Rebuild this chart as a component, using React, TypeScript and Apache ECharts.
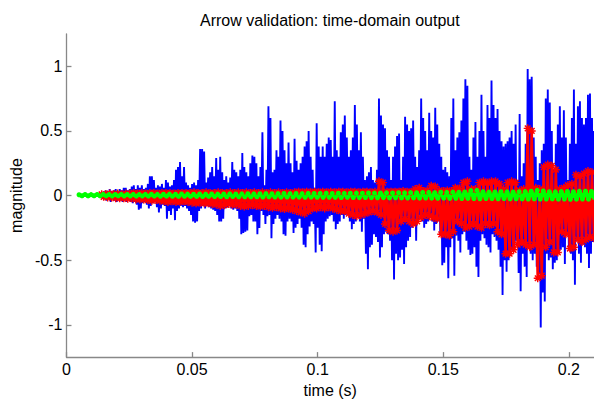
import React, { useEffect, useRef } from "react";
import * as echarts from "echarts";

// ---- data ----
const TITLE = "Arrow validation: time-domain output";
const X_NAME = "time (s)";
const Y_NAME = "magnitude";
const X_TICKS = [0, 0.05, 0.1, 0.15, 0.2];
const Y_TICKS = [-1, -0.5, 0, 0.5, 1];

// blue signal: positive and negative peaks on a regular time grid
const BLUE_T0 = 0.014;
const BLUE_DT = 0.0008;
const BLUE_UPPER = [
  0.02, 0.03, 0.04, 0.03, 0.05, 0.03, 0.04, 0.05, 0.03, 0.05, 0.04, 0.06,
  0.06, 0.04, 0.05, 0.07, 0.08, 0.05, 0.08, 0.06, 0.08, 0.05, 0.06,
  0.09, 0.15, 0.15, 0.12, 0.06, 0.08, 0.07, 0.09, 0.06, 0.12, 0.1, 0.07, 0.08,
  0.12, 0.2, 0.22, 0.26, 0.15, 0.22, 0.1, 0.08, 0.06, 0.09, 0.1, 0.08, 0.12,
  0.36, 0.36, 0.34, 0.1, 0.14, 0.18, 0.22, 0.15, 0.29, 0.2, 0.3, 0.18,
  0.12, 0.15, 0.1, 0.14, 0.26, 0.2, 0.18, 0.15, 0.2, 0.33, 0.22, 0.18,
  0.15, 0.25, 0.31, 0.3, 0.25, 0.15, 0.22, 0.49, 0.08, 0.2, 0.69, 0.6,
  0.18, 0.2, 0.35, 0.3, 0.58, 0.5, 0.35, 0.25, 0.41, 0.25, 0.18, 0.44,
  0.27, 0.2, 0.25, 0.3, 0.38, 0.42, 0.5, 0.3, 0.2, 0.06, 0.56, 0.38,
  0.3, 0.38, 0.3, 0.4, 0.45, 0.43, 0.3, 0.73, 0.35, 0.3, 0.49, 0.55,
  0.62, 0.45, 0.3, 0.35, 0.45, 0.7, 0.55, 0.35, 0.49, 0.3, 0.12, 0.15,
  0.18, 0.22, 0.12, 0.1, 0.2, 0.75, 0.62, 0.55, 0.52, 0.35, 0.3, 0.12,
  0.3, 0.38, 0.46, 0.48, 0.12, 0.3, 0.61, 0.55, 0.5, 0.52, 0.58, 0.3,
  0.22, 0.35, 0.75, 0.6, 0.5, 0.35, 0.64, 0.5, 0.45, 0.68, 0.55, 0.4,
  0.3, 0.2, 0.22, 0.18, 0.15, 0.6, 0.75, 0.35, 0.45, 0.49, 0.58, 0.75,
  0.9, 0.85, 0.3, 0.2, 0.45, 0.57, 0.3, 0.5, 0.78, 0.5, 0.3, 0.7,
  0.6, 0.89, 0.7, 0.6, 0.67, 0.5, 0.42, 0.38, 0.4, 0.42, 0.45, 0.5,
  0.4, 0.55, 0.12, 0.63, 0.15, 0.25, 0.4, 0.98, 0.9, 0.92, 0.45, 0.3,
  0.12, 0.25, 0.35, 0.4, 0.75, 0.82, 0.72, 0.5, 0.2, 0.4, 0.55, 0.69,
  0.45, 0.66, 0.45, 0.12, 0.4, 0.6, 0.82, 0.4, 0.69, 0.73, 0.6, 0.55,
  0.6, 0.78, 0.79, 0.6, 0.5,
];
const BLUE_LOWER = [
  -0.02, -0.03, -0.04, -0.03, -0.05, -0.03, -0.04, -0.05, -0.03, -0.04, -0.05, -0.04, -0.05, -0.03, -0.05,
  -0.06, -0.05, -0.07, -0.11, -0.1, -0.06, -0.05, -0.07, -0.1, -0.08, -0.06, -0.05,
  -0.09, -0.13, -0.1, -0.07, -0.08, -0.18, -0.12, -0.15, -0.1, -0.19, -0.12, -0.1,
  -0.08, -0.09, -0.08, -0.1, -0.12, -0.15, -0.2, -0.21, -0.2, -0.12, -0.1, -0.08,
  -0.1, -0.08, -0.09, -0.1, -0.11, -0.12, -0.15, -0.2, -0.2, -0.18, -0.1, -0.09,
  -0.08, -0.1, -0.11, -0.1, -0.12, -0.18, -0.3, -0.29, -0.28, -0.27, -0.16, -0.15,
  -0.2, -0.2, -0.3, -0.25, -0.12, -0.15, -0.22, -0.16, -0.15, -0.33, -0.22, -0.18,
  -0.15, -0.18, -0.2, -0.3, -0.31, -0.2, -0.18, -0.2, -0.29, -0.25, -0.22, -0.18,
  -0.25, -0.38, -0.4, -0.3, -0.24, -0.2, -0.22, -0.44, -0.25, -0.38, -0.43, -0.3,
  -0.2, -0.18, -0.16, -0.15, -0.2, -0.26, -0.22, -0.2, -0.15, -0.18, -0.15, -0.12,
  -0.2, -0.26, -0.22, -0.2, -0.15, -0.2, -0.28, -0.18, -0.45, -0.57, -0.4, -0.38,
  -0.3, -0.32, -0.36, -0.48, -0.4, -0.3, -0.28, -0.3, -0.35, -0.5, -0.65, -0.45,
  -0.5, -0.48, -0.42, -0.53, -0.4, -0.35, -0.32, -0.25, -0.2, -0.35, -0.2, -0.15,
  -0.2, -0.25, -0.22, -0.2, -0.15, -0.2, -0.27, -0.22, -0.2, -0.3, -0.54, -0.52,
  -0.4, -0.64, -0.4, -0.33, -0.62, -0.31, -0.35, -0.44, -0.3, -0.28, -0.35, -0.42,
  -0.46, -0.45, -0.4, -0.55, -0.63, -0.35, -0.3, -0.33, -0.38, -0.4, -0.44, -0.3,
  -0.32, -0.35, -0.42, -0.55, -0.77, -0.5, -0.59, -0.5, -0.45, -0.42, -0.38, -0.35,
  -0.6, -0.74, -0.45, -0.55, -0.63, -0.4, -0.45, -0.5, -0.45, -0.55, -0.6, -1.02,
  -0.75, -0.82, -0.45, -0.5, -0.48, -0.57, -0.52, -0.5, -0.45, -0.42, -0.4, -0.53,
  -0.3, -0.4, -0.45, -0.5, -0.69, -0.35, -0.45, -0.52, -0.38, -0.4, -0.45, -0.56,
  -0.45, -0.36, -0.4,
];

// red signal (star markers)
const RED_T0 = 0.014;
const RED_DT = 0.0016;
const RED_UPPER = [
  0.01, 0.01, 0.015, 0.01, 0.015, 0.01, 0.015, 0.015, 0.02, 0.015, 0.02, 0.015,
  0.02, 0.02, 0.015, 0.02, 0.02, 0.02, 0.015, 0.02, 0.02, 0.02, 0.02, 0.025,
  0.02, 0.02, 0.025, 0.02, 0.02, 0.025, 0.02, 0.02, 0.025, 0.02, 0.025, 0.02,
  0.025, 0.02, 0.025, 0.02, 0.025, 0.02, 0.025, 0.02, 0.025, 0.02, 0.025, 0.02,
  0.025, 0.03, 0.025, 0.03, 0.025, 0.03, 0.025, 0.03, 0.025, 0.03, 0.025, 0.03,
  0.03, 0.025, 0.03, 0.03, 0.025, 0.03, 0.03, 0.025, 0.03, 0.11, 0.1, 0.03,
  0.03, 0.03, 0.03, 0.035, 0.03, 0.03, 0.05, 0.06, 0.035, 0.04, 0.075, 0.07,
  0.04, 0.035, 0.04, 0.035, 0.06, 0.055, 0.1, 0.11, 0.05, 0.05, 0.1, 0.11,
  0.1, 0.11, 0.11, 0.09, 0.05, 0.1, 0.11, 0.1, 0.04, 0.05, 0.52, 0.5,
  0.06, 0.05, 0.22, 0.24, 0.23, 0.2, 0.05, 0.06, 0.08, 0.09, 0.16, 0.15,
  0.17, 0.19, 0.18,
];
const RED_LOWER = [
  -0.01, -0.015, -0.015, -0.02, -0.02, -0.02, -0.025, -0.02, -0.03, -0.03, -0.03, -0.035,
  -0.04, -0.035, -0.04, -0.045, -0.05, -0.045, -0.05, -0.05, -0.045, -0.05, -0.055, -0.06,
  -0.055, -0.06, -0.06, -0.065, -0.07, -0.08, -0.075, -0.065, -0.07, -0.07, -0.08, -0.085,
  -0.08, -0.075, -0.08, -0.085, -0.08, -0.09, -0.095, -0.09, -0.1, -0.105, -0.1, -0.11,
  -0.12, -0.13, -0.14, -0.12, -0.1, -0.1, -0.09, -0.1, -0.09, -0.1, -0.11, -0.12,
  -0.12, -0.14, -0.15, -0.16, -0.15, -0.14, -0.13, -0.12, -0.13, -0.15, -0.22, -0.27,
  -0.28, -0.27, -0.2, -0.18, -0.2, -0.22, -0.2, -0.17, -0.15, -0.16, -0.17, -0.18,
  -0.3, -0.3, -0.31, -0.28, -0.2, -0.22, -0.25, -0.24, -0.22, -0.24, -0.25, -0.22,
  -0.23, -0.22, -0.28, -0.3, -0.45, -0.45, -0.42, -0.38, -0.36, -0.38, -0.4, -0.38,
  -0.64, -0.62, -0.4, -0.36, -0.44, -0.44, -0.28, -0.3, -0.41, -0.4, -0.34, -0.36,
  -0.34, -0.32, -0.33,
];

// green signal (circle markers)
const GREEN_T0 = 0.005;
const GREEN_DT = 0.0024;
const GREEN_UPPER = [
  0.006, 0.008, 0.007, 0.008, 0.009, 0.008, 0.008, 0.009, 0.008, 0.009, 0.008, 0.009,
  0.01, 0.009, 0.01, 0.011, 0.01, 0.012, 0.011, 0.01, 0.012, 0.011, 0.012, 0.011,
  0.012, 0.013, 0.012, 0.013, 0.014, 0.013, 0.014, 0.015, 0.014, 0.015, 0.016, 0.015,
  0.016, 0.015, 0.017, 0.016, 0.017, 0.018, 0.016, 0.018, 0.017, 0.018, 0.019, 0.018,
  0.02, 0.019, 0.02, 0.021, 0.02, 0.022, 0.021, 0.023, 0.022, 0.024, 0.025, 0.023,
  0.026, 0.025, 0.027, 0.026, 0.028, 0.038, 0.04, 0.03, 0.027, 0.028, 0.03, 0.029,
  0.028, 0.03, 0.031, 0.033, 0.04, 0.035, 0.03, 0.029, 0.031, 0.032, 0.03, 0.033,
  0.034, 0.032,
];
const GREEN_LOWER = [
  -0.002, -0.003, -0.002, -0.003, -0.003, -0.004, -0.003, -0.004, -0.004, -0.005, -0.004, -0.005,
  -0.005, -0.006, -0.005, -0.006, -0.007, -0.006, -0.007, -0.007, -0.008, -0.007, -0.008, -0.008,
  -0.009, -0.008, -0.009, -0.01, -0.009, -0.01, -0.011, -0.01, -0.011, -0.012, -0.011, -0.012,
  -0.012, -0.013, -0.012, -0.013, -0.014, -0.013, -0.014, -0.015, -0.014, -0.015, -0.016, -0.015,
  -0.016, -0.017, -0.016, -0.018, -0.017, -0.018, -0.019, -0.018, -0.02, -0.019, -0.02, -0.021,
  -0.02, -0.022, -0.021, -0.023, -0.022, -0.024, -0.025, -0.023, -0.024, -0.025, -0.024, -0.026,
  -0.025, -0.026, -0.027, -0.026, -0.028, -0.027, -0.026, -0.028, -0.027, -0.029, -0.028, -0.027,
  -0.028, -0.029,
];

function interleave(t0: number, dt: number, upper: number[], lower: number[]) {
  const out: number[][] = [];
  upper.forEach((u, i) => {
    const t = t0 + i * dt;
    out.push([t, u]);
    out.push([t + dt / 2, lower[i]]);
  });
  return out;
}

const FONT = "'Liberation Sans', Arial, Helvetica, sans-serif";
const AXIS_COLOR = "#888888";
const ASTERISK =
  "path://M-0.9,-5 L0.9,-5 L0.9,5 L-0.9,5 Z M-5,-0.9 L5,-0.9 L5,0.9 L-5,0.9 Z M-4.2,-2.9 L-2.9,-4.2 L4.2,2.9 L2.9,4.2 Z M2.9,-4.2 L4.2,-2.9 L-2.9,4.2 L-4.2,2.9 Z";

export default function App() {
  const ref = useRef<HTMLDivElement>(null);
  useEffect(() => {
    if (!ref.current) return;
    const chart = echarts.init(ref.current, undefined, { renderer: "svg" });
    chart.setOption({
      animation: false,
      backgroundColor: "#ffffff",
      title: {
        text: TITLE,
        left: 195,
        top: 7,
        textStyle: { fontFamily: FONT, fontSize: 16, fontWeight: "normal", color: "#000" },
      },
      grid: { left: 62, top: 34, width: 533.4, height: 330, containLabel: false },
      xAxis: {
        type: "value",
        min: 0,
        max: 0.21,
        name: X_NAME,
        nameLocation: "middle",
        nameGap: 22,
        nameTextStyle: { fontFamily: FONT, fontSize: 16, color: "#000" },
        splitLine: { show: false },
        axisLine: { show: true, onZero: false, lineStyle: { color: AXIS_COLOR, width: 1.3 } },
        axisTick: { show: true, inside: true, length: 5, customValues: X_TICKS, lineStyle: { color: AXIS_COLOR, width: 1.3 } },
        axisLabel: { customValues: X_TICKS, margin: 4, fontFamily: FONT, fontSize: 16, color: "#000" },
      },
      yAxis: {
        type: "value",
        min: -1.25,
        max: 1.25,
        name: Y_NAME,
        nameLocation: "middle",
        nameGap: 38,
        nameTextStyle: { fontFamily: FONT, fontSize: 16, color: "#000" },
        splitLine: { show: false },
        axisLine: { show: true, onZero: false, lineStyle: { color: AXIS_COLOR, width: 1.3 } },
        axisTick: { show: true, inside: true, length: 5, customValues: Y_TICKS, lineStyle: { color: AXIS_COLOR, width: 1.3 } },
        axisLabel: { customValues: Y_TICKS, margin: 4, fontFamily: FONT, fontSize: 16, color: "#000" },
      },
      series: [
        {
          type: "line",
          data: interleave(BLUE_T0, BLUE_DT, BLUE_UPPER, BLUE_LOWER),
          showSymbol: false,
          lineStyle: { color: "#0000ff", width: 1.9 },
          itemStyle: { color: "#0000ff" },
          silent: true,
          clip: true,
        },
        {
          type: "line",
          data: interleave(RED_T0, RED_DT, RED_UPPER, RED_LOWER),
          symbol: ASTERISK,
          symbolSize: 8,
          showAllSymbol: true,
          lineStyle: { color: "#ff0000", width: 2.6 },
          itemStyle: { color: "#ff0000" },
          silent: true,
          clip: true,
        },
        {
          type: "line",
          data: interleave(GREEN_T0, GREEN_DT, GREEN_UPPER, GREEN_LOWER),
          symbol: "circle",
          symbolSize: 5,
          showAllSymbol: true,
          lineStyle: { color: "#00ff00", width: 4 },
          itemStyle: { color: "#00ff00" },
          silent: true,
          clip: true,
        },
      ],
    });
    return () => chart.dispose();
  }, []);
  return (
    <div
      ref={ref}
      style={{ position: "fixed", left: 0, top: 0, width: 594, height: 403, background: "#fff" }}
    />
  );
}
